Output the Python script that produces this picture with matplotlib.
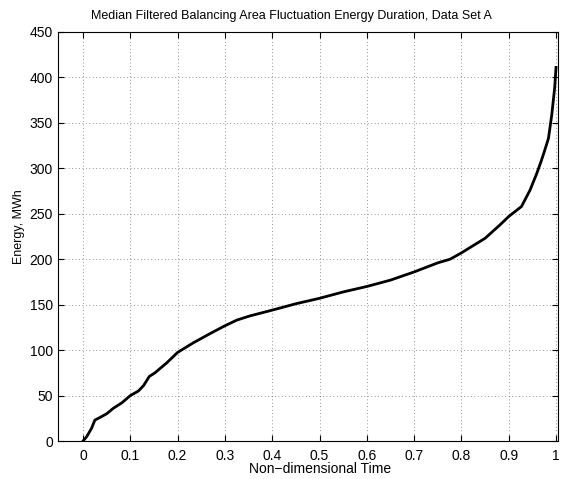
"""Median filtered balancing area fluctuation energy duration curve."""
import numpy as np
import matplotlib
matplotlib.use("Agg")
import matplotlib.pyplot as plt

plt.rcParams.update({
    "font.family": ["Liberation Sans", "DejaVu Sans"], "font.size": 10,
    "xtick.direction": "in", "ytick.direction": "in",
    "xtick.top": True, "ytick.right": True,
    "xtick.major.size": 4, "ytick.major.size": 4,
    "xtick.major.pad": 6.0, "ytick.major.pad": 3.6,
    "axes.linewidth": 0.8,
})

# non-dimensional time vs energy (MWh)
t = [0, 0.008, 0.018, 0.025, 0.036, 0.05, 0.064, 0.082, 0.1, 0.117, 0.128,
     0.14, 0.152, 0.177, 0.2, 0.233, 0.268, 0.297, 0.325, 0.352, 0.4, 0.45,
     0.5, 0.55, 0.6, 0.65, 0.7, 0.75, 0.776, 0.8, 0.85, 0.882, 0.9, 0.927,
     0.945, 0.959, 0.968, 0.975, 0.984, 0.991, 0.997, 1.0]
energy = [0, 5, 14, 23, 26, 30, 36, 42, 50, 55, 61, 71, 75, 86, 97.5, 108,
          118, 126, 133, 137.5, 144, 151, 157, 164, 170, 177, 186, 196, 200,
          207, 223, 238, 247, 258, 276, 294, 307, 318, 333, 359, 388, 411]
xticks = np.round(np.arange(0, 1.01, 0.1), 1)
yticks = np.arange(0, 451, 50)

fig = plt.figure(figsize=(5.74, 4.79), dpi=100)
ax = fig.add_axes([0.101, 0.0793, 0.871, 0.854])
ax.plot(t, energy, color="k", lw=2.0)
ax.set_xlim(-0.053, 1.004)
ax.set_ylim(0, 450)
ax.set_xticks(xticks)
ax.set_xticklabels([f"{v:g}" for v in xticks])
ax.set_yticks(yticks)
ax.grid(True, color="0.35", ls=(0, (1, 3.5)), lw=0.55)
ax.set_xlabel("Non\u2212dimensional Time")
ax.xaxis.set_label_coords(0.524, -0.052)
ax.set_ylabel("Energy, MWh", fontsize=9)
ax.yaxis.set_label_coords(-0.066, 0.524)
ax.set_title("Median Filtered Balancing Area Fluctuation Energy Duration, Data Set A",
             fontsize=9, x=0.467, pad=9)
fig.savefig("out.png", dpi=100)
